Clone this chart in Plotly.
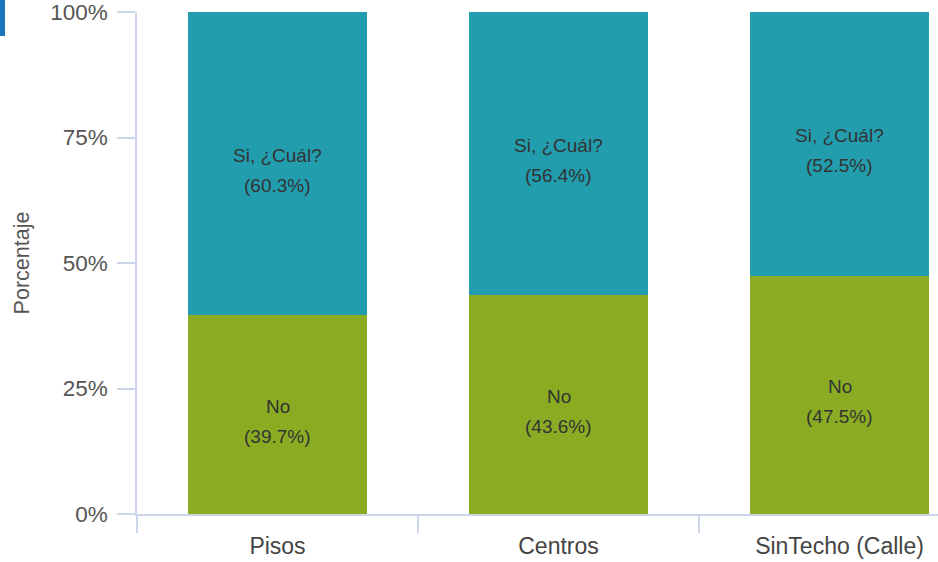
import plotly.graph_objects as go

categories = ["Pisos", "Centros", "SinTecho (Calle)"]
series_names = ["No", "Si, ¿Cuál?"]
no_values = [39.7, 43.6, 47.5]
si_values = [60.3, 56.4, 52.5]
series_values = [no_values, si_values]
series_colors = ["#8bac22", "#229dae"]
y_tickvals = [0, 25, 50, 75, 100]
y_ticktext = ["0%", "25%", "50%", "75%", "100%"]

W, H = 938, 562
ML, MR, MT, MB = 137, 0, 12, 48
cat_px = 281.0
plot_w = W - ML - MR
x_max = -0.5 + plot_w / cat_px

FONT = "Liberation Sans, Arial, sans-serif"
axis_col = "#ccd6eb"

fig = go.Figure()
for name, vals, col in zip(series_names, series_values, series_colors):
    fig.add_trace(go.Bar(
        x=categories, y=vals, name=name, marker=dict(color=col, line=dict(width=0)),
        width=0.64, hoverinfo="skip", showlegend=False,
    ))

# data labels (two lines per segment)
annotations = []
base = [0.0] * len(categories)
for name, vals in zip(series_names, series_values):
    for i, (c, v) in enumerate(zip(categories, vals)):
        mid = base[i] + v / 2
        annotations.append(dict(x=c, y=mid, xref="x", yref="y", text=name, showarrow=False,
                                yshift=8, font=dict(family=FONT, size=19, color="#333333")))
        annotations.append(dict(x=c, y=mid, xref="x", yref="y", text=f"({v:.1f}%)", showarrow=False,
                                yshift=-22, font=dict(family=FONT, size=19, color="#333333")))
        base[i] += v

fig.update_layout(
    width=W, height=H,
    margin=dict(l=ML, r=MR, t=MT, b=MB, pad=0, autoexpand=False),
    barmode="stack",
    bargap=0.36,
    plot_bgcolor="white", paper_bgcolor="white",
    annotations=annotations,
    font=dict(family=FONT, color="#555555"),
    xaxis=dict(
        type="category", range=[-0.5, x_max], tickson="boundaries",
        ticks="outside", ticklen=17, tickcolor=axis_col, tickwidth=1.5,
        showline=True, linecolor=axis_col, linewidth=1.5,
        showgrid=False, zeroline=False, automargin=False,
        ticklabelstandoff=11,
        tickfont=dict(family=FONT, size=23, color="#444444"),
    ),
    yaxis=dict(
        range=[0, 100], tickvals=y_tickvals, ticktext=y_ticktext,
        ticks="outside", ticklen=18, tickcolor=axis_col, tickwidth=1.5,
        showline=True, linecolor=axis_col, linewidth=1.5,
        showgrid=False, zeroline=False, ticklabelstandoff=5, automargin=False,
        ticklabeloverflow="allow",
        tickfont=dict(family=FONT, size=22.5, color="#555555"),
        title=dict(text="Porcentaje", font=dict(family=FONT, size=21.5, color="#555555"), standoff=15),
    ),
    shapes=[dict(type="rect", xref="paper", yref="paper",
                 x0=-ML / plot_w, x1=(-ML + 5) / plot_w,
                 y0=1 + (MT - 36) / (H - MT - MB), y1=1 + MT / (H - MT - MB),
                 fillcolor="#1b75bb", line=dict(width=0), layer="above")],
)

fig.write_html("out.html", config={"displayModeBar": False},
               post_script="document.body.style.margin='0';document.body.style.overflow='hidden';")
